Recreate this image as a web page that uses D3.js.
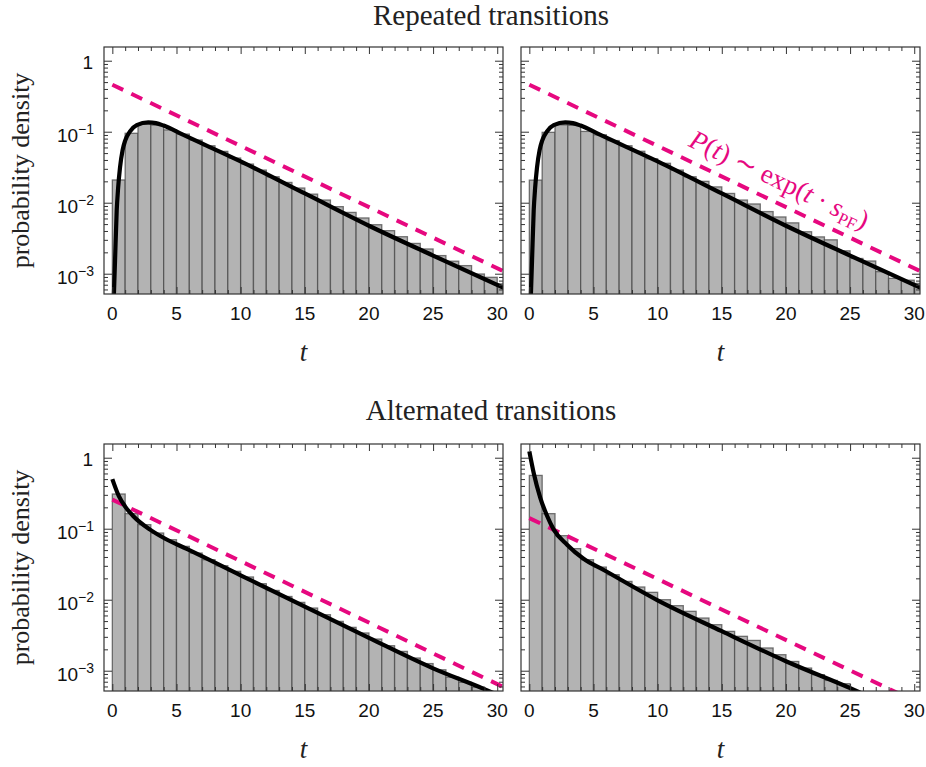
<!DOCTYPE html>
<html><head><meta charset="utf-8">
<script src="https://cdn.jsdelivr.net/npm/d3@7"></script>
<style>body{margin:0;background:#fff}</style>
</head><body>
<svg id="chart" width="926" height="767"></svg>
<script>
// ---------------- DATA ----------------
const tBins = [0,1,2,3,4,5,6,7,8,9,10,11,12,13,14,15,16,17,18,19,20,21,22,23,24,25,26,27,28,29,30];

const repeatedLeftHist = [0.0209,0.095,0.128,0.124,0.106,0.0925,0.0764,0.0634,0.0528,0.0426,0.035,0.0288,0.0232,0.0193,0.0161,0.0132,0.0109,0.0088,0.0073,0.0061,0.0049,0.00404,0.00332,0.00267,0.00223,0.0018,0.0015,0.0013,0.00099,0.00089,0.00072];
const repeatedRightHist = [0.0208,0.098,0.125,0.123,0.101,0.0905,0.075,0.0634,0.053,0.0416,0.0359,0.0288,0.0232,0.020,0.0167,0.0135,0.0109,0.0096,0.0075,0.0063,0.0052,0.0039,0.0033,0.003,0.0021,0.00164,0.00151,0.00107,0.00086,0.00081,0.00073];
const alternatedLeftHist = [0.308,0.163,0.114,0.0869,0.070,0.0564,0.0454,0.0366,0.0301,0.0251,0.0209,0.0168,0.0135,0.0111,0.00917,0.00763,0.00615,0.00495,0.00408,0.0034,0.00279,0.00225,0.00187,0.00151,0.00126,0.00103,0.00081,0.000686,0.000589,0.00045,0.0004];
const alternatedRightHist = [0.563,0.163,0.0798,0.0524,0.0366,0.0288,0.0225,0.0181,0.0151,0.0127,0.0100,0.00824,0.00686,0.00552,0.00445,0.00358,0.00305,0.00267,0.00209,0.00168,0.00135,0.00109,0.00088,0.00073,0.000656,0.0004,0.0003,0.00025,0.0002,0.00015,0.0001];

const repeatedCurveT = [0.08,0.21,0.34,0.45,0.6,0.8,1.0,1.38,1.9,2.8,3.4,4,5.5,10,15,20,25,30.5];
const repeatedCurveP = [0.0003,0.00153,0.0077,0.016,0.0315,0.055,0.075,0.101,0.124,0.135,0.132,0.122,0.0908,0.0382,0.0135,0.00474,0.0018,0.00063];
const alternatedLeftCurveT = [0,0.5,1.0,1.64,2.94,4.2,5.8,10,15,20,25,28.9,30];
const alternatedLeftCurveP = [0.50,0.29,0.205,0.15,0.097,0.071,0.052,0.0221,0.0080,0.0029,0.00108,0.00056,0.00046];
const alternatedRightCurveT = [0,0.34,0.86,1.38,1.9,2.94,4.2,5.8,10,15,20,25.4,26.5];
const alternatedRightCurveP = [1.23,0.61,0.27,0.152,0.097,0.0596,0.038,0.0262,0.0098,0.0036,0.00136,0.00053,0.00043];

const fitT = [0, 30.45];
const repeatedFitP = [0.459, 0.00109];
const alternatedLeftFitP = [0.257, 0.000592];
const alternatedRightFitP = [0.141, 0.000344];

const xTickValues = [0,5,10,15,20,25,30];
const xMinorTickValues = [1,2,3,4,6,7,8,9,11,12,13,14,16,17,18,19,21,22,23,24,26,27,28,29];
const yTickValues = [1, 0.1, 0.01, 0.001];
const yTickExponents = ["", "−1", "−2", "−3"];

const rowTitles = ["Repeated transitions", "Alternated transitions"];
const yAxisTitle = "probability density";
const xAxisTitle = "t";

// ---------------- LAYOUT ----------------
const colX = [[104, 503], [521, 920]];
const rowY = [[47, 294], [444, 691]];
const xDomain = [-0.65, 30.45];
const yDomain = [5.18e-4, 1.56];
const pink = "#e6087f";

const panels = [
  {row:0,col:0,hist:repeatedLeftHist,cT:repeatedCurveT,cP:repeatedCurveP,fP:repeatedFitP,note:false},
  {row:0,col:1,hist:repeatedRightHist,cT:repeatedCurveT,cP:repeatedCurveP,fP:repeatedFitP,note:true},
  {row:1,col:0,hist:alternatedLeftHist,cT:alternatedLeftCurveT,cP:alternatedLeftCurveP,fP:alternatedLeftFitP,note:false},
  {row:1,col:1,hist:alternatedRightHist,cT:alternatedRightCurveT,cP:alternatedRightCurveP,fP:alternatedRightFitP,note:false}
];

const svg = d3.select("#chart");
const defs = svg.append("defs");

// y minor tick positions (unlabelled)
const yMinor = [];
[0.0001,0.001,0.01,0.1,1].forEach(d => [2,3,4,5,6,7,8,9].forEach(m => {
  const v = d*m; if (v > yDomain[0] && v < yDomain[1]) yMinor.push(v);
}));

panels.forEach((p, i) => {
  const [x0, x1] = colX[p.col];
  const [y0, y1] = rowY[p.row];
  const x = d3.scaleLinear().domain(xDomain).range([x0, x1]);
  const y = d3.scaleLog().domain(yDomain).range([y1, y0]);
  const clipId = "clip" + i;
  defs.append("clipPath").attr("id", clipId).append("rect")
    .attr("x", x0).attr("y", y0).attr("width", x1 - x0).attr("height", y1 - y0);
  const g = svg.append("g");
  const plot = g.append("g").attr("clip-path", `url(#${clipId})`);

  // histogram bars
  plot.selectAll("rect.bar").data(tBins.map((t, k) => ({t, v: p.hist[k]})).filter(d => d.v > yDomain[0]))
    .join("rect").attr("class", "bar")
    .attr("x", d => x(d.t)).attr("width", d => x(d.t + 1) - x(d.t))
    .attr("y", d => y(d.v)).attr("height", d => y1 + 2 - y(d.v))
    .attr("fill", "#b3b3b3").attr("stroke", "#4a4a4a")
    .attr("stroke-width", 1.3).attr("stroke-opacity", 0.75);

  // fitted exponential (dashed)
  const fitData = fitT.map((t, k) => [t, p.fP[k]]);
  const line = d3.line().x(d => x(d[0])).y(d => y(d[1]));
  plot.append("path").datum(fitData).attr("d", line)
    .attr("fill", "none").attr("stroke", pink).attr("stroke-width", 4)
    .attr("stroke-dasharray", "12,9");

  // model curve
  const curveData = p.cT.map((t, k) => [t, p.cP[k]]);
  plot.append("path").datum(curveData)
    .attr("d", d3.line().x(d => x(d[0])).y(d => y(d[1])).curve(d3.curveMonotoneX))
    .attr("fill", "none").attr("stroke", "#000").attr("stroke-width", 4.2)
    .attr("stroke-linejoin", "round");

  // ticks (inward, on all four sides)
  const tickStyle = sel => { sel.select(".domain").remove(); sel.selectAll("line").attr("stroke", "#333").attr("stroke-width", 1); };
  g.append("g").attr("transform", `translate(0,${y1})`).call(d3.axisBottom(x).tickValues(xTickValues).tickSize(-7).tickFormat("")).call(tickStyle);
  g.append("g").attr("transform", `translate(0,${y1})`).call(d3.axisBottom(x).tickValues(xMinorTickValues).tickSize(-4).tickFormat("")).call(tickStyle);
  g.append("g").attr("transform", `translate(0,${y0})`).call(d3.axisTop(x).tickValues(xTickValues).tickSize(-7).tickFormat("")).call(tickStyle);
  g.append("g").attr("transform", `translate(0,${y0})`).call(d3.axisTop(x).tickValues(xMinorTickValues).tickSize(-4).tickFormat("")).call(tickStyle);
  g.append("g").attr("transform", `translate(${x0},0)`).call(d3.axisLeft(y).tickValues(yTickValues).tickSize(-8).tickFormat("")).call(tickStyle);
  g.append("g").attr("transform", `translate(${x0},0)`).call(d3.axisLeft(y).tickValues(yMinor).tickSize(-4).tickFormat("")).call(tickStyle);
  g.append("g").attr("transform", `translate(${x1},0)`).call(d3.axisRight(y).tickValues(yTickValues).tickSize(-8).tickFormat("")).call(tickStyle);
  g.append("g").attr("transform", `translate(${x1},0)`).call(d3.axisRight(y).tickValues(yMinor).tickSize(-4).tickFormat("")).call(tickStyle);

  // frame
  g.append("rect").attr("x", x0).attr("y", y0).attr("width", x1 - x0).attr("height", y1 - y0)
    .attr("fill", "none").attr("stroke", "#333").attr("stroke-width", 1.2);

  // x tick labels
  g.selectAll("text.xl").data(xTickValues).join("text").attr("class", "xl")
    .attr("x", d => x(d)).attr("y", y1 + 26).attr("text-anchor", "middle")
    .attr("font-family", "Liberation Sans, Arial, sans-serif").attr("font-size", 19).attr("fill", "#111")
    .text(d => d);

  // x axis title
  g.append("text").attr("x", (x0 + x1) / 2).attr("y", y1 + 67).attr("text-anchor", "middle")
    .attr("font-family", "Liberation Serif, serif").attr("font-style", "italic").attr("font-size", 27)
    .attr("fill", "#222").text(xAxisTitle);

  if (p.col === 0) {
    yTickValues.forEach((v, k) => {
      const t = g.append("text").attr("text-anchor", "end")
        .attr("font-family", "Liberation Sans, Arial, sans-serif").attr("font-size", 19).attr("fill", "#111");
      if (yTickExponents[k] === "") {
        t.attr("x", x0 - 11).attr("y", y(v) + 8).text("1");
      } else {
        t.attr("x", x0 - 10).attr("y", y(v) + 10);
        t.append("tspan").text("10");
        t.append("tspan").attr("dy", -8).attr("font-size", 14).text(yTickExponents[k]);
      }
    });
    g.append("text").attr("transform", `translate(29,${(y0 + y1) / 2}) rotate(-90)`)
      .attr("text-anchor", "middle").attr("font-family", "Liberation Serif, serif")
      .attr("font-size", 26).attr("fill", "#222").text(yAxisTitle);
  }

  if (p.note) {
    const tA = 11.9;
    const pA = Math.pow(10, Math.log10(p.fP[0]) + (Math.log10(p.fP[1]) - Math.log10(p.fP[0])) * (tA - fitT[0]) / (fitT[1] - fitT[0]));
    const ang = Math.atan2(y(p.fP[1]) - y(p.fP[0]), x(fitT[1]) - x(fitT[0])) * 180 / Math.PI;
    const note = g.append("text")
      .attr("transform", `translate(${x(tA)},${y(pA)}) rotate(${ang}) translate(0,-13)`)
      .attr("font-family", "Liberation Serif, serif").attr("font-size", 27).attr("fill", pink);
    note.append("tspan").attr("font-style", "italic").text("P");
    note.append("tspan").text("(");
    note.append("tspan").attr("font-style", "italic").text("t");
    note.append("tspan").text(") ∼ exp(");
    note.append("tspan").attr("font-style", "italic").text("t");
    note.append("tspan").text(" · ");
    note.append("tspan").attr("font-style", "italic").text("s");
    note.append("tspan").attr("font-size", 17).attr("dy", 5).text("PF");
    note.append("tspan").attr("dy", -5).text(")");
  }
});

// row titles
rowTitles.forEach((txt, r) => {
  svg.append("text").attr("x", 491).attr("y", r === 0 ? 25 : 420).attr("text-anchor", "middle")
    .attr("font-family", "Liberation Serif, serif").attr("font-size", 29).attr("fill", "#222").text(txt);
});
</script>
</body></html>
